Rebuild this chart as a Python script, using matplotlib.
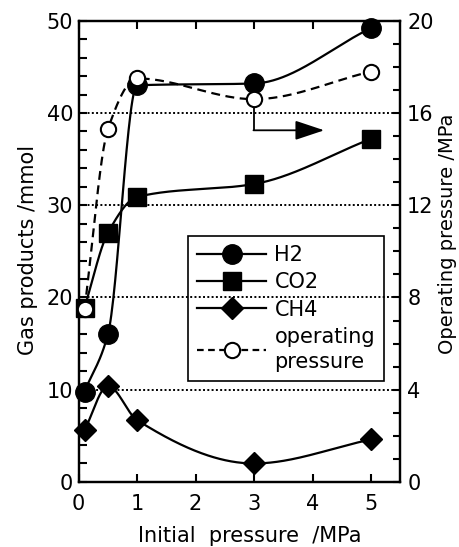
"""
Gas products and operating pressure vs. initial pressure.
"""

import numpy as np
import matplotlib
matplotlib.use('Agg')
import matplotlib.pyplot as plt
from matplotlib.lines import Line2D

plt.rcParams['font.family'] = ['DejaVu Sans']
plt.rcParams['font.size'] = 15

# data
init_p = [0.1, 0.5, 1.0, 3.0, 5.0]
h2 = [9.8, 16.0, 43.0, 43.2, 49.2]
co2 = [18.9, 27.0, 30.9, 32.3, 37.2]
ch4 = [5.6, 10.4, 6.7, 2.0, 4.6]
op_pressure = [7.5, 15.3, 17.5, 16.6, 17.8]

x_ticks = [0, 1, 2, 3, 4, 5]
left_ticks = [0, 10, 20, 30, 40, 50]
right_ticks = [0, 4, 8, 12, 16, 20]


def smooth(x, y, n=300):
    # monotone cubic (pchip-like) curve through the measured points
    x = np.asarray(x, float)
    y = np.asarray(y, float)
    h = np.diff(x)
    d = np.diff(y) / h
    m = np.zeros_like(y)
    for k in range(1, len(x) - 1):
        if d[k - 1] * d[k] > 0:
            w1 = 2 * h[k] + h[k - 1]
            w2 = h[k] + 2 * h[k - 1]
            m[k] = (w1 + w2) / (w1 / d[k - 1] + w2 / d[k])
    m[0] = d[0]
    m[-1] = d[-1]
    xs = np.linspace(x[0], x[-1], n)
    idx = np.clip(np.searchsorted(x, xs) - 1, 0, len(x) - 2)
    t = (xs - x[idx]) / h[idx]
    h00 = 2 * t**3 - 3 * t**2 + 1
    h10 = t**3 - 2 * t**2 + t
    h01 = -2 * t**3 + 3 * t**2
    h11 = t**3 - t**2
    ys = (h00 * y[idx] + h10 * h[idx] * m[idx]
          + h01 * y[idx + 1] + h11 * h[idx] * m[idx + 1])
    return xs, ys


fig = plt.figure(figsize=(4.6, 5.47), dpi=100)
ax = fig.add_axes([0.171, 0.119, 0.699, 0.843])
ax2 = ax.twinx()

lw = 1.6
for series, marker, ms in [(h2, 'o', 14), (co2, 's', 12.5), (ch4, 'D', 11.5)]:
    xs, ys = smooth(init_p, series)
    ax.plot(xs, ys, color='black', lw=lw, zorder=3)
    ax.plot(init_p, series, linestyle='none', marker=marker, ms=ms,
            color='black', zorder=4, clip_on=False)

xs, ys = smooth(init_p, op_pressure)
ax2.plot(xs, ys, color='black', lw=lw, dashes=(4, 2.5), zorder=3)

# arrow pointing to the right axis
arrow_x0, arrow_x1, arrow_y = 3.0, 4.2, 15.25
ax2.plot([arrow_x0, arrow_x0], [op_pressure[3], arrow_y], color='black', lw=1.3, zorder=2)
ax2.annotate('', xy=(arrow_x1, arrow_y), xytext=(arrow_x0 - 0.01, arrow_y),
             arrowprops=dict(arrowstyle='-|>,head_length=0.9,head_width=0.3',
                             color='black', lw=1.3, mutation_scale=20,
                             shrinkA=0, shrinkB=0))

ax2.plot(init_p, op_pressure, linestyle='none', marker='o', ms=11,
         mfc='white', mec='black', mew=1.5, zorder=5, clip_on=False)

# dotted reference lines
for yv in left_ticks[1:-1]:
    ax.axhline(yv, color='black', lw=1.4, linestyle=(0, (1, 1.2)), zorder=1)

ax.set_xlim(0, 5.5)
ax.set_ylim(0, 50)
ax2.set_ylim(0, 20)

ax.set_xticks(x_ticks)
ax.set_yticks(left_ticks)
ax.set_yticks(np.arange(0, 51, 2), minor=True)
ax2.set_yticks(right_ticks)
ax2.set_yticks(np.arange(0, 21, 1), minor=True)

ax.tick_params(axis='x', which='both', direction='in', top=True, length=6, width=1.5, pad=9)
ax.tick_params(axis='y', which='both', direction='in', length=6, width=1.5, pad=4)
ax2.tick_params(axis='y', which='both', direction='in', length=5, width=1.5, pad=5)
for a in (ax, ax2):
    for s in a.spines.values():
        s.set_linewidth(1.6)

ax.set_xlabel('Initial  pressure  /MPa', va='center')
ax.xaxis.set_label_coords(0.533, -0.117)
ax.set_ylabel('Gas products /mmol', va='center')
ax.yaxis.set_label_coords(-0.157, 0.504)
ax2.set_ylabel('Operating pressure /MPa', rotation=90, va='center', fontsize=14)
ax2.yaxis.set_label_coords(1.147, 0.538)

handles = [
    Line2D([], [], color='black', lw=lw, marker='o', ms=14),
    Line2D([], [], color='black', lw=lw, marker='s', ms=12.5),
    Line2D([], [], color='black', lw=lw, marker='D', ms=11.5),
    Line2D([], [], color='black', lw=lw, dashes=(3, 2), marker='o', ms=11,
           mfc='white', mec='black', mew=1.5),
]
labels = ['H2', 'CO2', 'CH4', 'operating\npressure']
leg = ax2.legend(handles, labels, loc='upper left', bbox_to_anchor=(0.34, 0.534),
                 numpoints=1, handlelength=3.3, handletextpad=0.4,
                 labelspacing=0.35, borderpad=0.45, borderaxespad=0,
                 fancybox=False, facecolor='none', framealpha=1,
                 edgecolor='black', fontsize=15)
leg.get_frame().set_linewidth(1.2)
for t in leg.get_texts():
    t.set_linespacing(1.3)

fig.savefig('out.png', dpi=100)
